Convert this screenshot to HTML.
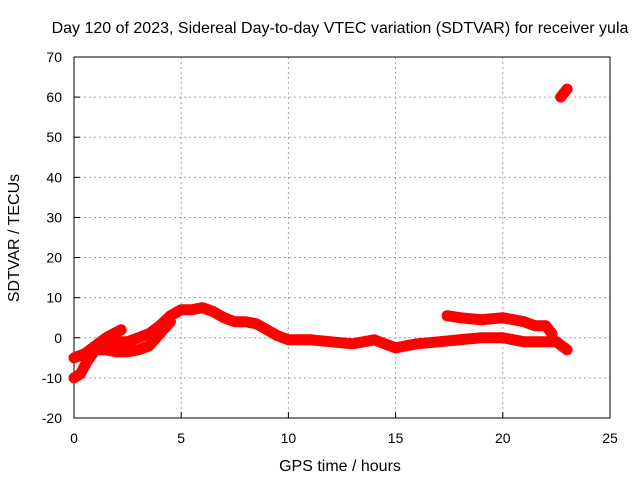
<!DOCTYPE html>
<html><head><style>
body{margin:0;background:#fff;}
svg{display:block;font-family:"Liberation Sans",sans-serif;}
</style></head><body>
<svg id="c" width="640" height="480">
</svg>
<script>
const xTicks=[0,5,10,15,20,25];
const yTicks=[-20,-10,0,10,20,30,40,50,60,70];
const s1Hours=[0,0.5,1,1.5,2,2.5,3,3.5,4,4.5,5,5.5,6,6.5,7,7.5,8,8.5,9,9.5,10,11,12,13,14,15,16,17,18,19,20,21,22,22.5,23];
const s1Vals=[-5,-4,-2,-1,-1,-1,0,1,3,5.5,7,7,7.5,6.5,5,4,4,3.5,2,0.5,-0.5,-0.5,-1,-1.5,-0.5,-2.5,-1.5,-1,-0.5,0,0,-1,-1,-1,-3];
const s2Hours=[0,0.3,0.6,1,1.5,2,2.5,3,3.5,4,4.5];
const s2Vals=[-10,-9,-6,-3,-3,-3.5,-3.5,-3,-2,1,4];
const s3Hours=[1,1.5,2.2];
const s3Vals=[-2,0,2];
const s4Hours=[17.4,18,19,20,21,21.5,22,22.3];
const s4Vals=[5.5,5,4.5,5,4,3,3,1];
const s5Hours=[22.7,23];
const s5Vals=[60,62];
const X=h=>74+h*(536/25);
const Y=v=>418-(v+20)*(361/90);
const svg=document.getElementById('c');
const NS='http://www.w3.org/2000/svg';
function mk(t,a){const e=document.createElementNS(NS,t);for(const k in a)e.setAttribute(k,a[k]);svg.appendChild(e);return e;}
xTicks.forEach(t=>{if(t>0&&t<25){const g=mk('line',{x1:X(t),x2:X(t),y1:57,y2:418,stroke:'#a0a0a0','stroke-dasharray':'2,3'});

}
const l=mk('text',{x:X(t),y:443,'text-anchor':'middle','font-size':14,fill:'#000'});l.textContent=t;


mk('line',{x1:X(t),x2:X(t),y1:418,y2:412,stroke:'#000'});});
yTicks.forEach(t=>{if(t>-20&&t<70){const g=mk('line',{x1:74,x2:610,y1:Y(t),y2:Y(t),stroke:'#a0a0a0','stroke-dasharray':'2,3'});

}
const l=mk('text',{x:62,y:Y(t)+5,'text-anchor':'end','font-size':14,fill:'#000'});l.textContent=t;


mk('line',{x1:74,x2:80,y1:Y(t),y2:Y(t),stroke:'#000'});});
const fr=mk('rect',{x:74,y:57,width:536,height:361,fill:'none',stroke:'#000'});


[[s1Hours,s1Vals],[s2Hours,s2Vals],[s3Hours,s3Vals],[s4Hours,s4Vals],[s5Hours,s5Vals]].forEach(([hs,vs])=>{
const p=mk('polyline',{points:hs.map((h,i)=>X(h)+','+Y(vs[i])).join(' '),fill:'none',stroke:'#ff0000','stroke-width':11,'stroke-linejoin':'round','stroke-linecap':'round'});

});
let t=mk('text',{x:340,y:33,'text-anchor':'middle','font-size':16});t.textContent='Day 120 of 2023, Sidereal Day-to-day VTEC variation (SDTVAR) for receiver yula';


t=mk('text',{x:340,y:471,'text-anchor':'middle','font-size':16});t.textContent='GPS time / hours';


t=mk('text',{x:19,y:238,'text-anchor':'middle','font-size':16,transform:'rotate(-90 19 238)'});t.textContent='SDTVAR / TECUs';


</script>
</body></html>
